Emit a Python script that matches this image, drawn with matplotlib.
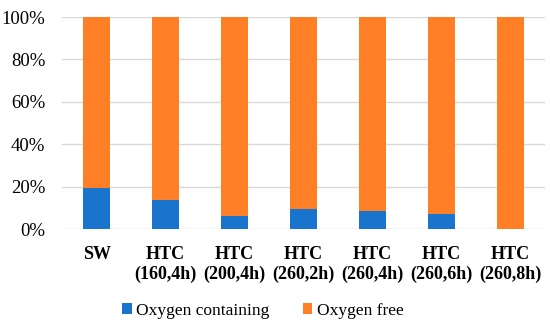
import numpy as np
import matplotlib.pyplot as plt

categories = ["SW", "HTC\n(160,4h)", "HTC\n(200,4h)", "HTC\n(260,2h)",
              "HTC\n(260,4h)", "HTC\n(260,6h)", "HTC\n(260,8h)"]
oxygen_containing = [19.4, 13.8, 6.1, 9.6, 8.3, 7.2, 0.0]
oxygen_free = [100 - v for v in oxygen_containing]

plt.rcParams["font.family"] = ["Liberation Serif", "DejaVu Serif"]

fig = plt.figure(figsize=(5.5, 3.23), dpi=100)
ax = fig.add_axes([0.113, 0.291, 0.878, 0.656])

x = np.arange(len(categories))
ax.bar(x, oxygen_containing, width=0.4, color="#1874CD", label="Oxygen containing", zorder=3)
ax.bar(x, oxygen_free, width=0.4, bottom=oxygen_containing, color="#FF7F27",
       label="Oxygen free", zorder=3)

ax.set_xlim(-0.5, len(categories) - 0.5)
ax.set_ylim(0, 100)
ax.set_yticks(np.arange(0, 101, 20))
ax.set_yticklabels([f"{v}%" for v in range(0, 101, 20)], fontsize=13.5)
ax.set_xticks(x)
ax.set_xticklabels(categories, fontsize=13, fontweight="bold", linespacing=1.25)
ax.tick_params(axis="y", length=0, pad=12)
ax.tick_params(axis="x", length=0, pad=12)
ax.grid(axis="y", color="#D9D9D9", linewidth=1, zorder=0)
for s in ax.spines.values():
    s.set_visible(False)

fig.legend(*ax.get_legend_handles_labels(), loc="center", bbox_to_anchor=(0.478, 0.038),
           ncol=2, frameon=False, fontsize=12.5, handlelength=0.55, handleheight=0.55,
           handletextpad=0.25, columnspacing=1.9, borderaxespad=0)

fig.savefig("out.png", dpi=100)
